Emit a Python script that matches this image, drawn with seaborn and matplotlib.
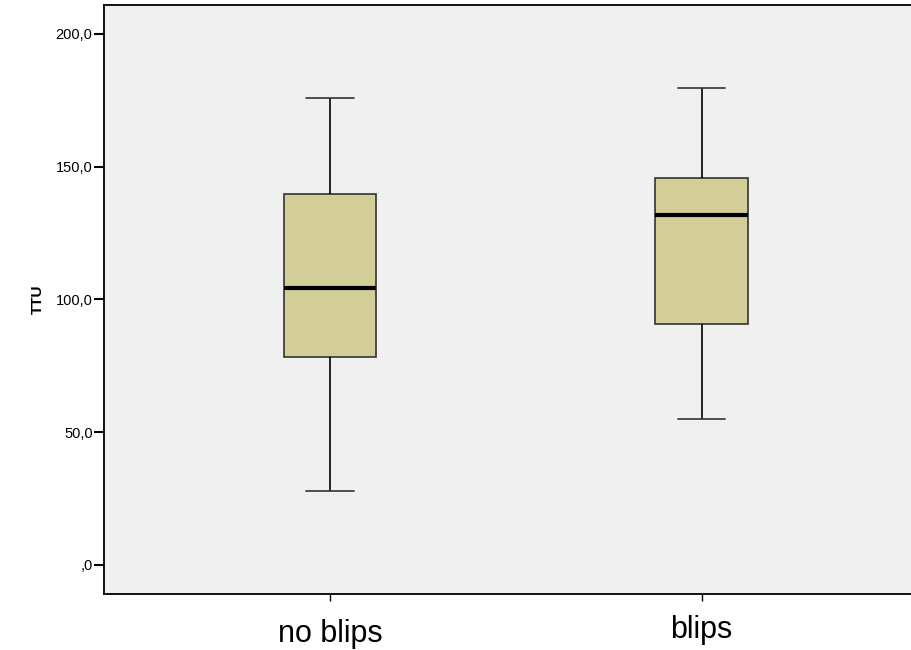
import numpy as np
import pandas as pd
import matplotlib
matplotlib.use("Agg")
import matplotlib.pyplot as plt
import matplotlib.transforms as mtransforms
import seaborn as sns

# Data (five-number summaries)
groups = ["no blips", "blips"]
mins = [27.9, 55.0]
q1s = [78.4, 90.8]
medians = [104.3, 131.7]
q3s = [139.8, 145.7]
maxs = [175.8, 179.8]
yticks = [0, 50, 100, 150, 200]
ytick_labels = [",0", "50,0", "100,0", "150,0", "200,0"]

rows = []
for g, a, b, c, d, e in zip(groups, mins, q1s, medians, q3s, maxs):
    for v in (a, b, c, d, e):
        rows.append({"group": g, "TTU": v})
df = pd.DataFrame(rows)

sns.set_style("white")
plt.rcParams["font.family"] = ["Liberation Sans", "DejaVu Sans"]
plt.rcParams["text.color"] = "black"
plt.rcParams["axes.labelcolor"] = "black"
plt.rcParams["xtick.color"] = "black"
plt.rcParams["ytick.color"] = "black"

fig = plt.figure(figsize=(9.12, 6.5), dpi=100)
ax = fig.add_axes([103.7 / 912, 1 - 594 / 650, 1 - 103.7 / 912, (594 - 5) / 650])
ax.set_facecolor("#F0F0F0")

sns.boxplot(
    data=df, x="group", y="TTU", order=groups, ax=ax,
    whis=(0, 100), width=0.25, color="#D3CE98", saturation=1,
    linewidth=1.2, linecolor="#333333",
    medianprops=dict(color="black", linewidth=3),
    whiskerprops=dict(color="black", linewidth=1.2),
    capprops=dict(color="#333333", linewidth=1.2),
    capwidths=0.127, showfliers=False,
)

ax.set_xlim(-0.609, 1.566)
ax.set_ylim(-11.0, 210.9)
ax.set_yticks(yticks)
ax.set_yticklabels(ytick_labels, fontsize=10.5, color="black")
ax.set_xlabel("")
ax.set_ylabel("TTU", fontsize=11, fontweight="bold", labelpad=8, color="black")

for side in ["left", "bottom", "top"]:
    ax.spines[side].set_visible(True)
    ax.spines[side].set_color("black")
    ax.spines[side].set_linewidth(1.3)
ax.spines["right"].set_visible(False)

ax.tick_params(axis="y", direction="out", length=7, width=1.5, color="black", pad=1, left=True, labelcolor="black")
ax.tick_params(axis="x", direction="out", length=5, width=1, color="black", pad=13, labelsize=22, bottom=True, labelcolor="black")

labels = ax.get_xticklabels()
labels[1].set_transform(labels[1].get_transform() + mtransforms.ScaledTranslation(0, 4 / 100, fig.dpi_scale_trans))

fig.savefig("out.png", dpi=100)
